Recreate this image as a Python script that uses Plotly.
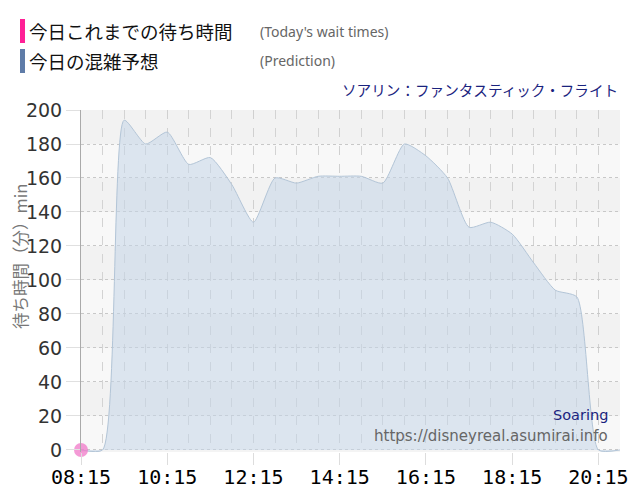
import plotly.graph_objects as go

# ---- data ----
pred_times = ["08:15", "08:45", "09:15", "09:45", "10:15", "10:45", "11:15", "11:45",
              "12:15", "12:45", "13:15", "13:45", "14:15", "14:45", "15:15", "15:45",
              "16:15", "16:45", "17:15", "17:45", "18:15", "18:45", "19:15", "19:45",
              "20:15", "20:45"]
pred_values = [0, 0, 194, 180, 187, 168, 172, 156,
               134, 160, 157, 161, 161, 161, 157, 180,
               173, 160, 131, 134, 127, 110, 94, 90,
               0, 0]
today_times = ["08:15"]
today_values = [0]
x_tick_labels = ["08:15", "10:15", "12:15", "14:15", "16:15", "18:15", "20:15"]
y_tick_values = [0, 20, 40, 60, 80, 100, 120, 140, 160, 180, 200]

DAY = "2024-01-01 "
def d(t):
    return DAY + t

fig = go.Figure()

fig.add_trace(go.Scatter(
    x=[d(t) for t in pred_times], y=pred_values,
    mode="lines", line=dict(color="#b3c5d7", width=1, shape="spline", smoothing=0.6),
    fill="tozeroy", fillcolor="rgba(196,213,232,0.55)",
    hoverinfo="skip", showlegend=False))

fig.add_trace(go.Scatter(
    x=[d(t) for t in today_times], y=today_values,
    mode="markers", marker=dict(size=14, color="rgba(240,120,200,0.75)"),
    showlegend=False, cliponaxis=False))

# plot area in page pixels: x 81..620, y 110..452
def px(xp):
    return (xp - 81) / 539

def py(yp):
    return (452 - yp) / 342

shapes = []
for i in range(10):
    y0, y1 = i * 20, (i + 1) * 20
    shapes.append(dict(type="rect", xref="paper", x0=0, x1=1, yref="y", y0=y0, y1=y1,
                       fillcolor="#f8f8f8" if i % 2 == 0 else "#f2f2f2",
                       line=dict(width=0), layer="below"))
# legend colour bars
shapes.append(dict(type="rect", xref="paper", yref="paper",
                   x0=px(20), x1=px(25), y0=py(43), y1=py(19),
                   fillcolor="#ff2096", line=dict(width=0)))
shapes.append(dict(type="rect", xref="paper", yref="paper",
                   x0=px(20), x1=px(25), y0=py(73), y1=py(49),
                   fillcolor="#5f7ca8", line=dict(width=0)))

anns = [
    dict(text="今日これまでの待ち時間", x=px(27), y=py(31), xanchor="left", yanchor="middle",
         font=dict(size=18.5, color="#111", family="Noto Sans CJK JP")),
    dict(text="(Today's wait times)", x=px(258), y=py(31), xanchor="left", yanchor="middle",
         font=dict(size=14, color="#666", family="Noto Sans")),
    dict(text="今日の混雑予想", x=px(27), y=py(61), xanchor="left", yanchor="middle",
         font=dict(size=18.5, color="#111", family="Noto Sans CJK JP")),
    dict(text="(Prediction)", x=px(258), y=py(61), xanchor="left", yanchor="middle",
         font=dict(size=14, color="#666", family="Noto Sans")),
    dict(text="ソアリン：ファンタスティック・フライト", x=px(620), y=py(90), xanchor="right", yanchor="middle",
         font=dict(size=14.6, color="#1a237e", family="Noto Sans CJK JP")),
    dict(text="Soaring", x=px(610), y=py(415), xanchor="right", yanchor="middle",
         font=dict(size=14.5, color="#1a237e", family="DejaVu Sans")),
    dict(text="https://disneyreal.asumirai.info", x=px(610), y=py(436), xanchor="right", yanchor="middle",
         font=dict(size=15, color="#666", family="DejaVu Sans")),
    dict(text="待ち時間（分）min", x=px(20), y=py(257), xanchor="center", yanchor="middle",
         textangle=-90, font=dict(size=16.5, color="#777", family="Noto Sans CJK JP")),
]
for a in anns:
    a.update(xref="paper", yref="paper", showarrow=False)

# page body has an 8px margin, so the figure is offset by 8px; keep page within 640x500
fig.update_layout(
    width=624, height=484,
    margin=dict(l=73, r=12, t=102, b=40, autoexpand=False),
    paper_bgcolor="white", plot_bgcolor="#f4f4f4",
    shapes=shapes, annotations=anns,
    xaxis=dict(
        type="date", range=[d("08:15"), d("20:45")], automargin=False,
        tickvals=[d(t) for t in x_tick_labels], ticktext=x_tick_labels,
        tickfont=dict(family="DejaVu Sans Mono", size=20, color="#000"),
        ticks="outside", ticklen=12, tickcolor="#dddddd", ticklabelstandoff=-5,
        showgrid=True, gridcolor="#d0d0d0", griddash="dash", gridwidth=1,
        minor=dict(dtick=30 * 60 * 1000, tick0=d("08:15"), showgrid=True,
                   gridcolor="#d3d3d3", griddash="dash", gridwidth=1),
        showline=False, zeroline=False, layer="above traces"),
    yaxis=dict(
        range=[-1.2, 200], tickvals=y_tick_values, automargin=False,
        tickfont=dict(family="DejaVu Sans", size=19, color="#333"),
        ticks="outside", ticklen=14, tickcolor="#e0e0e0",
        showgrid=True, gridcolor="#c8c8c8", griddash="dot", gridwidth=1,
        showline=True, linecolor="#aaaaaa", linewidth=1,
        zeroline=False, layer="above traces"),
)

fig.write_html("out.html")
